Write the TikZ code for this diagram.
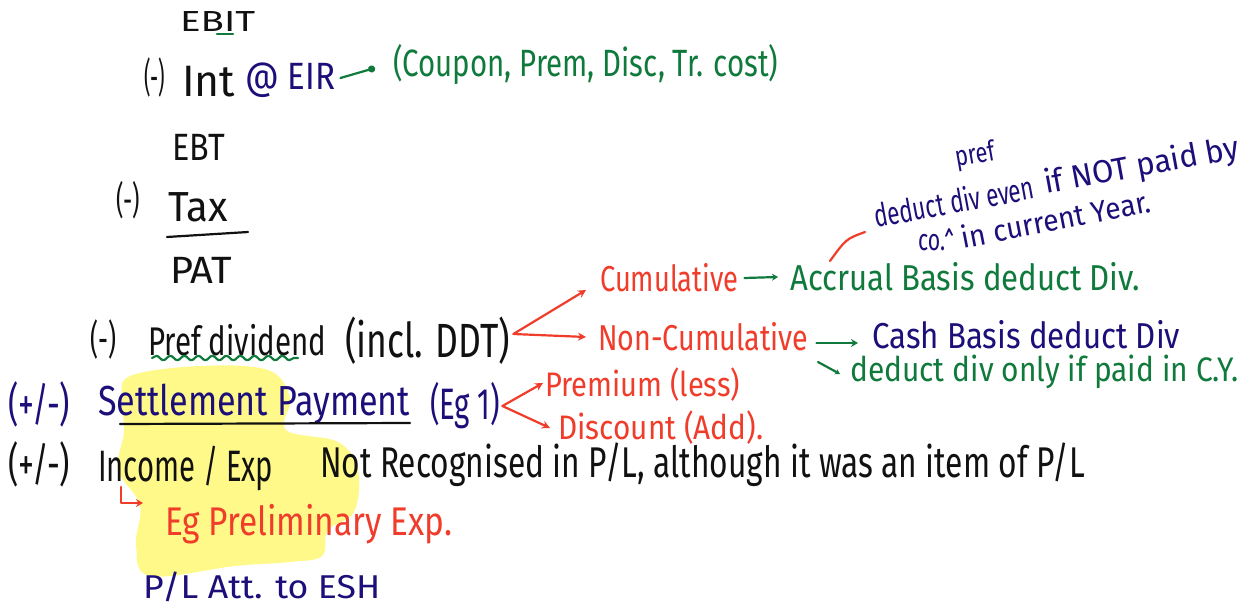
\documentclass[tikz,border=0pt]{standalone}
\usepackage{fontspec}
\setmainfont{Fira Sans}
\usetikzlibrary{arrows.meta,decorations.pathmorphing}
\definecolor{ink}{HTML}{111111}
\definecolor{navy}{HTML}{1C0F7A}
\definecolor{pengreen}{HTML}{0F7A3C}
\definecolor{penred}{HTML}{F03C2A}
\definecolor{marker}{HTML}{FFF98A}
% stretch a text horizontally to a given width (pt), keeping its height
\newcommand{\fitw}[2]{\resizebox{#1pt}{\height}{#2}}
\newcommand{\fsz}[1]{\fontsize{#1}{#1}\selectfont}
\tikzset{
  hw/.style={anchor=west, inner sep=0pt, text=ink, font=\fsz{36}},
  hwnavy/.style={hw, text=navy},
  hwgreen/.style={hw, text=pengreen},
  hwred/.style={hw, text=penred},
  pen/.style={line width=2.2pt, line cap=round, line join=round},
  tip/.style={-{Stealth[length=8pt,width=8pt]}},
}
\begin{document}
\begin{tikzpicture}[x=1pt,y=-1pt]
\useasboundingbox[fill=white] (0,0) rectangle (1257,609);

% highlighter stroke behind the lower block
\fill[marker] plot[smooth cycle, tension=0.6] coordinates {
  (130,376) (200,366) (268,370) (290,398) (286,430) (338,442)
  (358,470) (354,512) (328,530) (322,556) (290,562) (235,566)
  (150,576) (136,545) (140,505) (118,470) (124,432) (122,400)};

% income statement column
\node[hw, font=\fsz{29}] (ebit) at (180,22) {\fitw{75}{EBIT}};
\draw[pen, pengreen, line width=2.5pt] (217,34) -- (233,34);
\node[hw, font=\fsz{40}] (m1) at (144,78) {\fitw{21}{(-)}};
\node[hw, font=\fsz{44}] (int) at (182,82) {\fitw{53}{Int}};
\node[hwnavy, font=\fsz{38}] (eir) at (245,80) {\fitw{90}{@ EIR}};
\node[hwgreen, font=\fsz{38}] (coupon) at (393,64) {\fitw{385}{(Coupon, Prem, Disc, Tr. cost)}};
\draw[pen, pengreen, -{Circle[length=7pt]}] (eir.east) ++(5,-2) -- ([xshift=-18pt,yshift=-4pt]coupon.west);

\node[hw, font=\fsz{38}] (ebt) at (172,147) {\fitw{53}{EBT}};
\node[hw, font=\fsz{38}] (m2) at (116,200) {\fitw{24}{(-)}};
\node[hw, font=\fsz{42}] (tax) at (168,207) {\fitw{60}{Tax}};
\coordinate (ruleL) at (167,237);
\coordinate (ruleR) at (248,232);
\draw[pen, ink] (ruleL) -- (ruleR);
\node[hw, font=\fsz{38}] (pat) at (170,270) {\fitw{62}{PAT}};

% preference dividend branch
\node[hw, font=\fsz{40}] (m3) at (90,339) {\fitw{26}{(-)}};
\node[hw, font=\fsz{40}] (prefdiv) at (148,340) {\fitw{178}{Pref dividend}};
\node[hw, font=\fsz{48}] (incl) at (345,341) {\fitw{165}{(incl. DDT)}};
\draw[pen, pengreen, decorate, decoration={snake, amplitude=2.2pt, segment length=14pt}]
  (152,358) -- (298,358);

\node[hwred] (cum) at (600,278) {\fitw{138}{Cumulative}};
\node[hwred] (noncum) at (598,337) {\fitw{210}{Non-Cumulative}};
\draw[pen, penred, tip] (incl.east) ++(3,-7) -- ([xshift=-14pt,yshift=-12pt]cum.west);
\draw[pen, penred, tip] (incl.east) ++(3,-7) -- ([xshift=-12pt]noncum.west);

\node[hwgreen] (accrual) at (790,277) {\fitw{350}{Accrual Basis deduct Div.}};
\draw[pen, pengreen, -{Stealth[length=6pt,width=7pt]}] ([xshift=6pt]cum.east) -- ([xshift=-12pt]accrual.west);

\node[hwnavy] (cash) at (872,335) {\fitw{308}{Cash Basis deduct Div}};
\draw[pen, pengreen, -{Stealth[length=7pt,width=8pt]}] ([xshift=8pt,yshift=-6pt]noncum.east) -- ([xshift=-14pt,yshift=-8pt]cash.west);
\node[hwgreen, font=\fsz{34}] (onlyif) at (850,372) {\fitw{388}{deduct div only if paid in C.Y.}};
\draw[pen, pengreen, -{Stealth[length=5pt,width=6pt]}] (818,362) -- ([xshift=-10pt,yshift=-2pt]onlyif.west);

% note on the accrual basis, written on a slope
\node[hwnavy, font=\fsz{28}, anchor=center, rotate=10] (prefnote) at (975,156) {\fitw{40}{pref}};
\node[hwnavy, font=\fsz{32}, anchor=center, rotate=10.4] (note1a) at (954,201) {\fitw{162}{deduct div even}};
\node[hwnavy, font=\fsz{32}, anchor=center, rotate=10.4] (note1b) at (1142,167) {\fitw{198}{if NOT paid by}};
\node[hwnavy, font=\fsz{30}] (co) at (918,243) {\fitw{27}{co.}};
\node[hwnavy, font=\fsz{30}, anchor=center, rotate=11] (note2) at (1056,219) {\fitw{192}{in current Year.}};
\draw[pen, navy, line width=1.8pt] (946,236) -- (949,229) -- (952,235);
\draw[pen, penred] ([xshift=40pt,yshift=16pt]accrual.west) .. controls ([xshift=56pt,yshift=38pt]accrual.west) .. ([xshift=75pt,yshift=45pt]accrual.west);

% settlement payment
\node[hwnavy, font=\fsz{46}] (pm1) at (8,404) {\fitw{62}{(+/-)}};
\node[hwnavy, font=\fsz{42}] (settle) at (98,404) {\fitw{312}{Settlement Payment}};
\coordinate (ulL) at (120,424);
\coordinate (ulR) at (410,423);
\draw[pen, ink] (ulL) -- (ulR);
\node[hwnavy, font=\fsz{44}] (eg1) at (430,406) {\fitw{70}{(Eg 1)}};
\node[hwred, font=\fsz{34}] (prem) at (545,385) {\fitw{195}{Premium (less)}};
\node[hwred, font=\fsz{34}] (disc) at (558,428) {\fitw{205}{Discount (Add).}};
\draw[pen, penred, tip] ([xshift=2pt]eg1.east) -- ([xshift=-2pt,yshift=2pt]prem.west);
\draw[pen, penred, tip] ([xshift=2pt]eg1.east) -- ([xshift=-8pt]disc.west);

% income / expense
\node[hw, font=\fsz{46}] (pm2) at (8,464) {\fitw{62}{(+/-)}};
\node[hw, font=\fsz{44}] (income) at (98,468) {\fitw{175}{Income / Exp}};
\node[hw, font=\fsz{43}] (notrec) at (320,465) {\fitw{765}{Not Recognised in P/L, although it was an item of P/L}};
\node[hwred, font=\fsz{40}] (prelim) at (165,524) {\fitw{287}{Eg Preliminary Exp.}};
\draw[pen, penred, line width=2.6pt, -{Stealth[length=7pt,width=8pt]}] (121,487) |- ([xshift=-22pt,yshift=21pt]prelim.west);

\node[hwnavy, font=\fsz{33}] (pl) at (143,587) {\fitw{237}{P/L Att. to ESH}};
\end{tikzpicture}
\end{document}
